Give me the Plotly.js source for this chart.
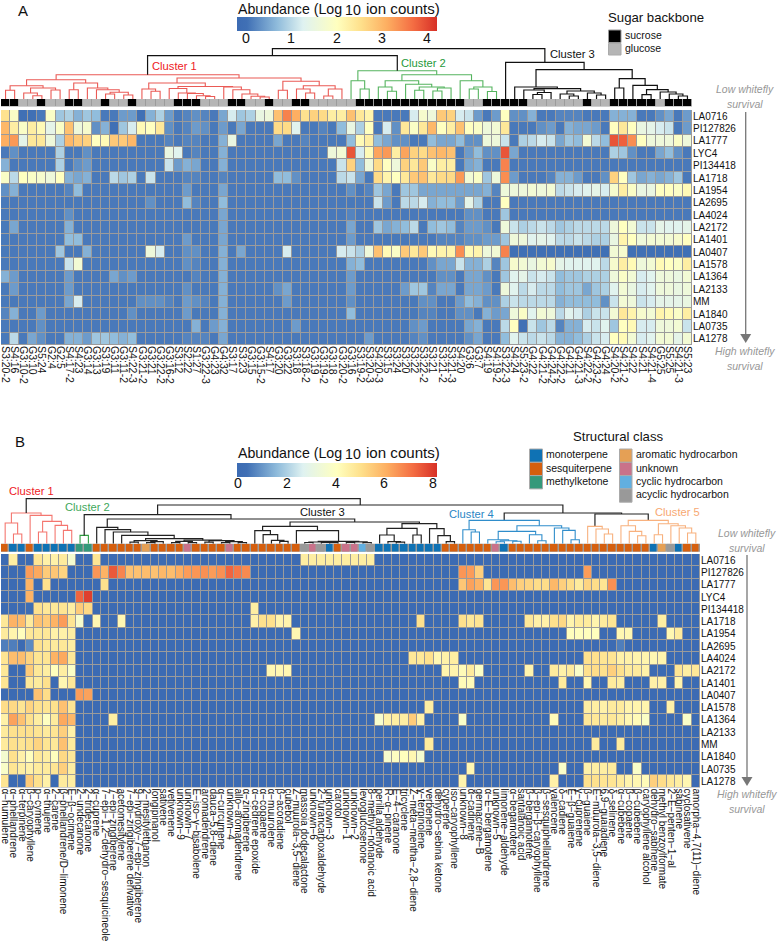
<!DOCTYPE html>
<html><head><meta charset="utf-8">
<script src="https://cdn.plot.ly/plotly-3.0.1.min.js"></script>
<style>html,body{margin:0;padding:0;background:#fff}#g{width:778px;height:943px}</style>
</head><body><div id="g"></div>
<script>
const genotypes=["LA0716","PI127826","LA1777","LYC4","PI134418","LA1718","LA1954","LA2695","LA4024","LA2172","LA1401","LA0407","LA1578","LA1364","LA2133","MM","LA1840","LA0735","LA1278"];
const sugarLabels=["S3:20-2","S4:16","G3:10-2","G3:10","S5:24","G2:4","G2:5","S4:17-2","S4:23","G3:14","G3:13","S3:19","G3:11","G3:11-2","S4:22-3","G3:21-2","G3:21","G3:22-2","G3:16-2","S3:12","S2:22","S1:27","G3:22-3","G4:23","G4:32","S3:17","S3:23","G3:15","G3:15-2","S4:17","G3:20","G3:22","S3:18","S3:18-2","G3:19","G3:19-2","G3:18","G3:20-2","G3:16","S3:19-2","S3:20-3","S4:20-3","S3:15","S3:24","S3:20","S3:22","S3:22-2","S3:21","S3:21-2","S3:21-3","S4:20","G3:6","G3:7","S4:19","S4:19-2","S3:22-3","S4:24","S5:23-2","G4:22","G4:21-2","G4:24-2","G4:22-2","G4:21","G4:21-3","S4:22-2","G4:23-2","G4:24","S4:20-2","S4:21-2","S4:22","S4:21","S4:21-4","G5:25","S5:25","S4:21-3","S5:23"];
const abundanceA=[
[2.5,1.9,0,0,.1,1.9,.8,.9,.6,.8,.7,.1,.1,.4,.4,0,.6,.9,.4,.1,.2,.3,.2,.1,.5,1.2,.8,.9,1.5,1.6,2.9,3.5,3.1,2.5,2.7,2.6,2.3,2.3,2.9,2.4,2.2,.1,.1,.1,.1,1.2,1.8,1.6,2.8,2.7,1.2,1.1,.4,.1,.4,2,.3,.3,.6,.1,.1,.2,.2,.2,.1,.1,.1,.6,.6,.6,.1,.1,.3,.5,.1,.4],
[3,2.3,1.9,2.3,2.1,1.4,1.9,2.9,1.6,1.8,.3,.6,0,.8,1.2,2.1,2,2.4,.3,.1,.2,.4,.3,.1,.4,.1,.5,.1,.1,.1,2.6,2.6,1.3,.1,.1,.2,.1,.7,1.5,.9,2,.1,1.2,.3,2.4,1.9,2.4,3,2,2.3,2.9,2,1.9,1.6,1.7,2.4,.1,.1,.1,.3,.4,.1,.6,.5,.5,.4,.1,2,2.4,2,1.5,1.4,1.2,1.1,.1,.4],
[3.1,3.3,1.4,2.4,2.4,1.6,.9,3,2.8,2.7,2,2.1,2.8,2.8,3,.1,.1,.1,.2,.1,.2,.2,.1,.1,.6,1.5,.1,.1,.1,.1,.5,.1,.1,.2,.1,.1,.1,.1,.7,2.1,2.3,.7,.5,.3,.3,.1,.1,.7,.5,.5,.7,.3,.3,1.6,1.6,1.1,.1,.9,1,1.2,1.1,.5,.8,.7,1.7,1,.7,3.9,3.8,3.4,2,1.6,1.6,1.6,1.9,1.6],
[.1,.3,.1,.1,.1,.1,.9,.1,.1,.3,.1,.1,.1,.1,.1,.1,.1,.1,1.5,1.3,.1,.2,.1,.1,.6,.1,.1,.1,.1,.1,.1,.1,.1,.1,.1,.1,1.6,1.7,3.9,1.2,2.1,3.2,3.3,2.3,3.2,2.7,2.6,2.9,3,2.9,.1,.4,.7,.3,.3,3.9,.5,.1,.1,.1,.1,.1,.1,.1,.1,.1,.1,.9,.8,.3,.1,.1,.5,.7,.3,.1],
[.6,.1,.1,.1,.1,.1,.9,.1,.3,.4,.1,.1,.1,.1,.1,.1,.1,.1,1.1,.4,.6,.5,.1,.1,.6,.1,.1,.1,.1,.1,.1,.1,.1,.1,.1,.1,.1,1.1,2.7,.7,1.6,2.6,2,1.6,2.7,2.4,2.8,1.9,2.3,2.3,.1,.5,.6,.1,.1,3.5,.1,.1,.1,.1,.1,.1,.1,.1,.1,.1,.1,.1,.1,.1,.1,.1,.1,.1,.1,.1],
[1.9,1,2,1.9,1.8,1.6,2,.6,.5,.6,.1,.1,1,.8,.9,.1,1.1,.1,.1,.1,.2,.2,.1,.1,.2,.1,.1,.1,.1,.1,.7,.7,.3,.1,.1,.1,.1,1,1.1,.5,.1,2.6,2.2,2,2.4,2.8,2.9,2.4,2.6,2.6,3.3,1.7,1.9,.8,1.6,3.4,.4,.1,.1,.1,.2,.6,.6,.4,.1,.1,.3,2.7,2,.8,.5,.6,.5,.6,.8,.1],
[.3,.6,.1,.1,.1,.1,.1,.2,.7,.1,.1,.1,.1,.1,.1,.1,.1,.1,.1,.1,.4,.1,.1,.1,.5,.1,.1,.1,.1,.1,.1,.1,.1,.1,.1,.1,.1,.1,.3,.1,.2,.8,.5,.1,.8,.8,.5,.5,.5,.5,.5,.5,.5,.6,.2,1.6,1.6,1.6,1.7,1.6,1.7,1,1.1,1.2,1.3,1.4,1.2,1.8,2.3,1.9,1.5,1.5,2,2,1.9,2.1],
[.1,.1,.1,.1,.1,.1,.1,.1,.1,.1,.1,.1,.1,.1,.1,.1,.3,.1,.1,.1,.7,.2,.1,.1,.7,.1,.1,.1,.1,.1,.1,.1,.1,.1,.1,.1,.1,.1,.1,.1,.1,1.1,.4,.1,1,1,1.2,.6,.7,.7,.4,1.4,.9,.1,.1,2,.1,.1,.1,.1,.1,.1,.1,.1,.1,.1,.1,.1,.1,.1,.1,.1,.1,.1,.1,.1],
[.1,.1,.1,.1,.1,.1,.1,.3,.1,.1,.1,.1,.1,.1,.1,.1,.1,.1,.1,.1,.1,.1,.1,.1,.5,.1,.1,.1,.1,.1,.1,.1,.1,.1,.1,.1,.1,.1,.2,.1,.1,.1,.1,.1,.1,.1,.1,.1,.1,.1,.1,.3,.3,.1,.1,.8,.1,.1,.1,.1,.1,.1,.1,.1,.1,.1,.1,.1,.1,.1,.1,.1,.1,.1,.1,.1],
[.1,.5,.1,.1,.1,.1,.1,.6,.1,.1,.1,.1,.1,.1,.1,.1,.1,.1,.1,.1,.1,.1,.1,.1,.5,.1,.1,.1,.1,.1,.1,.1,.1,.1,.1,.1,.1,.1,.5,.1,.1,.8,.5,.6,.7,1,.1,.7,.8,.7,.2,.4,.4,.3,.1,1.6,1.1,.9,1,1.1,1,.8,.9,1,1,1,1,1.6,2,1.7,1.1,1.1,1.4,1.3,1.3,1.4],
[.1,.1,.1,.1,.1,.1,.1,.7,.7,.1,.1,.1,.1,.1,.1,.1,.1,.1,.1,.1,.4,.1,.1,.1,.5,.1,.1,.1,.1,.1,.1,.1,.1,.1,.1,.1,.1,.1,.4,.1,.1,.1,.1,.1,.1,.1,.1,.1,.2,.2,.2,.3,.3,.4,.4,.8,1.6,1.6,1.3,1.4,1.3,1,1,1.1,1,.9,.9,1.5,2.2,2,1.6,1.7,1.7,1.7,1.8,2],
[.1,.1,.1,.1,.1,.1,.8,.1,.1,.6,.1,.1,.1,.1,.1,.1,1.6,1.2,.1,.1,.3,.3,.1,.1,.6,.1,.5,.1,.1,.1,.1,1.2,.1,.1,.1,.1,.1,1.2,1.1,.9,1.6,2.9,2.1,1.9,2.8,2.4,2.8,2.1,2.2,2.2,3.4,2.1,2.2,1.6,1.7,3.5,0,0,0,0,0,0,0,0,0,0,0,1.7,1.8,0,0,0,0,0,0,0],
[.1,.1,.1,.1,.1,.1,.1,1.1,1.7,.1,.1,.1,.1,.1,.1,.1,.1,.1,.1,.1,.3,.2,.1,.1,.6,.1,.1,.1,.1,.1,.1,.1,.1,.1,.1,.1,.1,.1,.6,.7,.1,.1,.1,.1,.1,.1,.1,.3,.5,.5,1.1,.6,.6,.9,.2,.8,1.8,1.7,1.5,1.7,1.8,1.4,1.3,1.3,1.3,1.3,1,1.8,2.3,2.1,1.6,1.7,2.1,2,1.9,2.3],
[.6,.4,.1,.1,.1,.1,.1,.4,.1,.1,.1,.1,.5,.3,.4,.1,.1,.1,.1,.1,.1,.2,.1,.1,.6,.1,.1,.1,.1,.1,.1,.1,.1,.1,.1,.1,.1,.1,.4,.1,.1,.1,.1,.1,.1,.1,.1,.1,.3,.3,.1,.5,.5,.3,.1,.8,1.3,1.4,1.1,1.2,1.1,.7,.8,.8,.9,.9,.9,1.6,1.9,1.7,1.2,1.3,1.6,1.6,1.5,1.7],
[.1,.4,.1,.1,.1,.1,.1,.4,.1,.1,.1,.1,.1,.1,.1,.1,.1,.1,.1,.1,.3,.1,.1,.1,.6,.1,.1,.1,.1,.1,.3,.5,.1,.1,.1,.1,.1,.1,.4,.1,.1,.1,.1,.1,.4,.8,.8,.2,.5,.5,.1,.5,.5,.4,.1,1.6,1.3,1,1.2,1,1,.7,.8,.8,.5,.8,.9,1.3,1.7,1.5,1.2,1.3,1.6,1.6,1.5,1.6],
[.1,.1,.1,.1,.1,.1,.1,.5,1.2,.1,.1,.1,.1,.1,.1,.3,.3,.3,.2,.1,.4,.3,.2,.1,.6,.1,.1,.1,.1,.1,.1,.4,.1,.1,.1,.1,.1,.1,.3,.1,.1,.1,.1,.1,.1,.1,.3,.3,.1,.1,.4,.7,.6,.3,.3,.9,1.1,1,1,1,1,.6,.7,.7,.7,.7,.3,1.1,1.7,1.6,1.1,1.2,1.4,1.4,1.4,1.5],
[.2,.6,.1,.1,.4,.1,.1,.1,.1,.1,.1,.1,.1,.1,.3,.1,.1,.1,.1,.1,.4,.1,.1,.1,.6,.1,.1,.1,.1,.1,.1,.1,.1,.1,.1,.1,.1,.1,.7,.1,.1,.1,.1,.1,.1,.1,.2,.2,.1,.1,.3,.3,.1,.6,.4,.5,1.6,1.9,1.3,1.7,1.6,1,1.3,1.2,.9,1.1,1.1,1.7,2.4,2.2,1.8,1.7,2.2,2.1,1.9,2.3],
[.1,.1,.1,.1,.3,.1,.1,.1,.1,.1,.1,.1,.1,.1,.1,.1,.1,.1,.1,.1,.1,.6,.1,.4,.6,.1,.1,.1,.1,.1,.1,.1,.4,.1,.1,.1,.1,.1,.1,.1,.1,.1,.1,.1,.1,.3,.4,.1,.1,.1,.1,.5,.6,.1,.1,1,2,0,1.1,.8,1,.2,.6,.6,1.2,1.1,1.3,.8,2,2.1,1.2,1.2,1.6,1.6,1.7,1.1],
[.1,1,.1,.5,.3,.1,.1,.6,.6,.4,.8,.8,.7,.6,.7,.1,.1,.1,.1,.1,.2,.2,.2,.1,.5,.1,.1,.1,.1,.1,.1,.1,.1,.1,.1,.1,.1,.1,.1,.1,.4,.1,.1,.1,.1,.2,.3,.1,.1,.1,.1,.3,.5,.1,.1,.7,1.3,1.1,1,1.1,1,.6,.6,.7,.9,1.1,1.2,2,2.1,1.7,1.2,1.3,1.7,1.7,1.4,1.7]
];
const terpeneLabels=["α−humulene","α−phellandrene","α−terpinene","β−caryophyllene","p−cymene","α−thujene","2−carene","β−phellandrene/D−limonene","E−β−ocimene","2−undecanone","2−tridecanone","α−cuprene","7−epi−1,2−dehydro−sesquicineole","7−epi−zingiberene","acetomesitylene","7−epi−zingiberene derivative","9−hydroxy−7−epi−zingiberene","2−mesitylethanon","longipinanol","sativene","vetivenene","unknown−9","unknown−7","E−iso−γ−bisabolene","aromadendrene","dauca−5,8−diene","α−curcumene","unknown−4","allo−aromadendrene","α−zingiberene","α−cedrene epoxide","α−copaene","α−muurolene","β−acoradiene","cubebol","Z−muurola−3,5−diene","massoia dodecalactone","unknown−6","2−furancarboxaldehyde","unknown−3","carotol","unknown−1","unknown−2","levoglucosenone","8−methyl−nonanoic acid","perilla aldehyde","R−α−pinene","E−4−caranone","tricyclene","Z−meta−mentha−2,8−diene","γ−terpinolene","verbenene","dehydro−sebina ketone","cyperene","iso−caryophyllene","unknown−8","α−cadinene","germacrene−B","α−E−bergamotene","unknown−5","limonene−aldehyde","α−begamotene","santalanoic acid","β−bergamotene","β−epi−β−caryophyllene","β−sesquiphellandrene","valencene","δ−cadiene","E−β−guaiene","γ−cuprenene","β−guaiene","E−muurola−3,5−diene","6,9−guaiadiene","δ−selinene","α−cubebene","β−copaene","β−cubebene","caryophyllene alcohol","dehydro−sabinene","methyl benzoylformate","2−E−penten−1−al","sabinene","cyclosativene","amorpha−4,7(11)−diene"];
const structuralClass=["sesq","mono","mono","sesq","mono","mono","mono","mono","mono","mk","mk","sesq","sesq","sesq","sesq","sesq","sesq","arom","sesq","sesq","sesq","sesq","unk","sesq","sesq","sesq","sesq","unk","sesq","sesq","sesq","sesq","sesq","sesq","sesq","sesq","acyc","unk","acyc","mono","sesq","unk","unk","cyc","acyc","mono","mono","mono","mono","mono","mono","mono","mono","sesq","sesq","sesq","sesq","sesq","sesq","unk","mono","sesq","sesq","sesq","sesq","sesq","sesq","sesq","sesq","sesq","sesq","sesq","sesq","sesq","sesq","sesq","sesq","sesq","mono","arom","acyc","mono","sesq","sesq"];
const abundanceB=[
[0,4.6,0,0,4.9,4.5,4.5,4.7,3.6,0,0,4.9,0,0,0,0,0,0,0,0,0,0,0,0,0,0,0,0,0,0,0,0,0,0,0,0,4.6,4.6,4.6,4.6,4.6,4.6,4.6,4.6,4.6,0,0,0,0,0,0,0,0,0,0,0,0,0,0,0,0,0,0,0,0,0,0,0,0,0,0,0,0,0,0,0,0,0,0,0,0,0,0,0],
[0,0,0,6.4,6.2,5.5,5.6,5.3,0,0,0,6.5,6,7.5,6.8,5.7,5.7,5.8,5.7,5.9,5.8,6.1,6.4,6.5,6.6,6.4,6.6,7.3,7,6.7,0,0,0,0,0,0,0,0,0,0,0,0,0,0,0,0,0,0,0,0,0,0,0,0,0,6.5,6.4,5.4,0,0,0,0,0,0,0,0,0,0,0,0,6.4,0,0,0,0,0,0,0,0,0,0,0,0,0],
[0,0,0,6,0,5,0,0,0,0,0,0,5,0,0,0,0,0,0,0,0,0,0,0,0,0,0,0,0,0,0,0,0,0,0,0,0,0,0,0,0,0,0,0,0,0,0,0,0,0,0,0,0,0,0,5.6,6.3,6,4.9,6.5,6.5,5.8,5.4,5.3,5.1,5.1,5.9,5.4,5.1,4.7,5.3,5.1,4.9,6.6,0,0,0,0,0,0,0,0,0,0],
[0,0,0,6,0,0,0,0,0,7.3,7.9,0,0,0,0,0,0,0,0,0,0,0,0,0,0,0,0,0,0,0,0,0,0,0,0,0,0,0,0,0,0,0,0,0,0,0,0,0,0,0,0,0,0,0,0,0,0,0,0,0,0,0,0,0,0,0,0,0,0,0,0,0,0,0,0,0,0,0,0,0,0,0,0,0],
[0,0,0,.2,5,4.8,4.8,4.9,4.6,5.5,5.2,0,0,0,0,0,0,0,0,0,0,0,0,0,0,0,0,0,0,0,4.6,0,0,0,0,0,0,0,0,0,0,0,0,0,0,0,0,0,0,0,0,0,0,0,0,0,0,0,0,0,0,0,0,0,0,0,0,0,0,0,0,0,0,0,0,0,0,0,0,0,0,0,0,0],
[4.8,6,5.8,4.7,5.7,5.5,6,6.4,4.9,3.7,0,4.3,0,0,4.3,0,0,0,0,0,0,0,0,0,0,0,0,0,0,0,4.5,5,5,4.4,4.4,0,0,0,0,0,0,0,0,0,0,0,0,0,0,0,5,0,0,0,0,5,4.8,4.9,0,0,0,0,0,4.8,4.5,4.5,5,5.2,4.4,4.7,4.7,4.4,4.7,4.9,0,0,0,0,0,4.6,0,0,0,0],
[4.7,4.4,4.1,4.8,4.8,4.8,4.5,4.5,4.6,0,0,0,0,0,0,0,0,0,0,0,0,0,0,0,0,0,0,0,0,0,0,0,0,0,0,4.3,0,0,0,0,0,0,0,0,0,0,0,0,0,0,0,0,0,0,0,0,0,0,0,0,0,0,0,0,0,0,0,0,4.1,4.1,4.1,4.1,0,0,4.3,4.3,0,0,0,0,4.3,4.7,0,0],
[.6,.6,0,.8,5,4.8,4.7,4.8,4.6,0,0,0,0,0,0,0,0,0,0,0,0,0,0,0,0,0,0,0,0,0,0,0,0,0,0,0,0,0,0,0,0,0,0,0,0,0,0,0,0,0,0,0,0,0,0,0,0,0,0,0,0,0,0,0,0,0,0,0,0,0,0,0,0,0,.6,0,0,0,0,0,0,0,0,0],
[4.9,5.8,5.8,5.3,4.9,4.9,6,6.2,4.8,0,0,0,0,0,0,0,0,0,0,0,0,0,0,0,0,0,0,0,0,0,0,0,0,0,0,0,0,0,0,0,0,0,0,0,0,0,0,0,0,4.8,4.8,5,4.3,4.5,4.6,0,0,0,0,0,0,0,0,0,0,0,0,0,0,0,5,5,4.9,4.9,4.5,4.5,4.4,4.4,4.3,4.4,0,0,0,0],
[4.8,0,0,5.5,4.8,4.6,4.1,4.6,3.9,0,0,0,0,0,0,0,0,0,0,0,0,0,0,0,0,0,0,0,0,0,0,0,4.3,4.3,4.3,0,0,0,0,0,0,0,0,0,0,0,0,0,0,0,0,0,0,4.4,4.4,4.2,4.7,3.9,0,0,0,0,0,4.4,0,0,4.7,4.5,4.7,3.8,5,5.1,5,5.4,5,4.7,4.7,4.5,0,0,0,4.9,4.6,4.8],
[4.9,0,0,4.8,4.7,5,0,4.3,4.8,0,0,0,0,0,0,0,0,0,0,0,0,0,0,0,0,0,0,0,0,0,0,0,0,0,0,0,0,0,0,0,0,0,0,0,0,0,0,0,0,0,0,0,0,0,0,4.2,4.2,0,0,0,0,0,0,0,0,0,0,4.7,0,0,4.3,0,0,4.7,4.6,0,0,0,4.5,4.5,0,4.4,0,0],
[0,0,0,0,5.7,5.1,0,0,0,6.4,6.3,0,0,0,0,0,0,0,0,0,0,0,0,0,0,0,0,0,0,0,0,0,0,0,0,0,0,0,0,0,0,0,0,0,0,0,0,0,0,0,0,0,0,0,0,0,0,0,0,0,0,0,0,0,0,0,0,0,0,0,0,0,0,0,0,0,0,0,0,0,0,0,0,0],
[5.1,5.2,4.9,5.3,5,4.9,5,5.7,4.9,0,0,0,0,0,0,0,0,0,0,0,0,0,0,0,0,0,0,0,0,0,0,0,0,0,0,0,0,0,0,0,0,0,0,0,0,0,0,0,0,0,0,4.6,0,0,0,0,0,0,0,0,0,0,0,0,0,0,0,0,0,0,4.6,4.6,4.5,4.7,4.7,4.4,4.4,4.4,0,0,4.5,0,0,0],
[4.5,6.3,5.7,5,4.6,4,4.7,6.2,5.9,0,0,0,0,4.6,0,0,0,0,0,0,0,0,0,0,0,0,0,0,0,0,0,0,0,0,0,0,0,0,0,0,0,0,0,0,0,3.7,4.5,4.6,4.6,5.5,4.5,0,0,0,0,3.8,0,0,0,0,0,0,0,0,0,0,4.2,0,0,0,4.8,4.8,4.7,4.8,4.6,4.3,4.2,3.9,0,0,0,0,3.8,0],
[4.7,5,5,5,4.9,4.7,4.9,5.4,4.5,0,0,0,0,0,0,0,0,0,0,0,0,0,0,0,0,0,0,0,0,0,0,0,0,0,0,0,0,0,0,0,0,0,0,0,0,0,0,0,0,0,0,0,0,0,0,0,0,0,0,0,0,0,0,0,0,0,0,0,0,0,0,0,0,0,0,0,0,0,0,0,0,0,0,0],
[4.7,5,4.9,5,5.3,4.9,4.8,5.7,4.7,0,0,0,0,0,0,0,0,0,0,0,0,0,0,0,0,0,0,0,0,0,0,0,0,0,0,0,0,0,0,0,0,0,0,0,0,0,0,0,0,0,0,4.7,0,0,0,0,0,0,0,0,0,0,0,0,0,0,0,0,0,0,0,4.7,0,0,4.7,0,0,0,0,0,0,0,0,0],
[3.6,5,4.5,4.1,4.8,4.6,4.1,5.2,4.8,0,0,0,0,0,0,0,0,0,0,0,0,0,0,0,0,0,0,0,0,0,0,0,0,0,0,0,0,0,0,0,0,0,0,0,0,0,3.7,4,4.1,4.3,3.6,0,0,0,0,0,0,0,0,0,0,0,0,0,0,0,0,0,0,0,0,0,0,0,0,0,0,0,0,0,0,0,0,0],
[3.8,4.9,4.6,4.5,4.7,4.7,4.9,5.4,4.6,0,0,0,0,0,0,0,0,0,0,0,0,0,0,0,0,0,0,0,0,0,0,0,0,0,0,0,0,0,0,0,0,0,0,0,0,0,0,0,0,0,0,0,0,0,0,0,4.3,0,0,0,0,0,0,0,0,0,0,3.8,0,0,4.5,4.6,4.6,4.7,0,0,3.8,0,0,0,0,0,0,0],
[4.9,0,0,5.5,5,4.5,0,4.7,4.6,0,0,0,0,0,0,0,0,0,0,0,0,0,0,0,0,0,0,0,0,0,0,0,0,0,0,0,0,0,0,0,0,0,0,0,0,0,0,0,0,0,0,0,0,0,0,4.4,0,0,0,0,0,0,0,0,0,0,4.5,0,0,0,5,5,4.9,4.9,4.7,4.4,4.3,4.2,5.4,5.1,4.8,4.6,4.3,0]
];
const ticksA=[0,1,2,3,4];
const ticksB=[0,2,4,6,8];
/* dendrograms: a node is [merge height, left, right, optional cluster]; 0 is a leaf */
const treeA=[50.3,[43.3,
  [24.3,[19.3,[13.3,[8.7,0,0],[11,[6,0,[3.3,0,0]],[9,0,0]]],[16,[9.3,0,0],[11,0,[9.3,0,[6.7,[5,0,0],[4,0,0]]]]]],
        [21,[16,[10,0,[7.7,0,0]],[12.5,[10.5,0,[6,0,[5.5,0,[3.3,0,[2.5,0,0]]]]],[12,0,[9.3,0,[5,0,[2.8,0,[2,0,0]]]]]]],[17.7,[8.7,0,0],[13.3,[10,0,[6,0,0]],[10,[3,0,0],0]]]],"c1"],
  [28.3,[18.3,0,[10,0,0]],[24.3,[18.3,[12,0,[7.7,0,0]],[14.7,0,[12,[8.7,0,0],[11,[8,0,0],0]]]],[18.3,0,[12,[10,0,0],[7.5,0,0]]]],"c2"]],
  [36.7,0,[29.3,[12,0,[10.3,[9,0,[6.5,[4.5,0,0],0]],[8,[5,0,[3,0,0]],[6,0,[4,0,0]]]]],[20.3,[11,0,0],[13.7,0,[9.3,[4.3,0,0],[7,0,[5,0,[3,0,0]]]]]]]]];
const treeB=[45,
  [30.7,[20.7,0,[9.7,0,0]],[28.3,0,[22.3,[11.7,0,0],[18.3,0,[13.3,0,0]]]],"c1"],
  [38.7,[29,[8.3,0,0,"c2"],[24.7,
     [16.3,0,[14,0,[11.7,0,[8.3,0,[5,[3,[1.5,0,0],[2,[1,0,0],0]],[3.5,[2.3,[1,0,0],[1,0,0]],[3,[1.5,0,0],[2,[1,0,0],[1,0,0]]]]]]]]],
     [21.7,[17.3,[13,0,[9,0,[3.3,0,[2.3,0,0]]]],[13,0,[2.3,[1.7,[1.2,0,0],[1.3,0,[1,0,0]]],[1.8,[1.2,0,0],[1,0,0]]]]],
           [20,[15.3,[8.7,0,[2,0,[1.5,0,0]]],[8.7,0,0]],[15,0,[8,0,[2,0,0]]]]]]],
   [30.7,[23.3,[14,0,[11.7,0,0]],[18,[12.3,[4,0,[3,[2,0,0],[2.5,0,0]]],[9,0,[3,0,0]]],[15.7,0,[13.3,0,[4,0,0]]]],"c4"],
         [29.7,[17.3,0,[14.7,0,[9.7,0,0]],"c5"],[23.3,[18,0,[12.3,0,[8,0,0]]],[20,[9,0,0],[18,0,[15.7,0,[10.7,0,0]]]],"c5"]]]]];

const W=778,H=943;
const px=v=>v/W, py=v=>1-v/H, dom=(a,b)=>[1-b/H,1-a/H];
const FONT="Liberation Sans, Arial, sans-serif";
const scale=[[0,"#3c6bb3"],[.05,"#4070b5"],[.2,"#8fbbdb"],[.33,"#dff2f1"],[.5,"#ffffbf"],[.62,"#fee08b"],[.75,"#fdae61"],[.88,"#f46d43"],[1,"#d73027"]];

function dendro(tree,colors,xa,ya){
  const segs={};let i=0;
  const walk=(n,c)=>{
    if(n===0)return{x:i++,h:0};
    const col=n[3]||c,l=walk(n[1],col),r=walk(n[2],col);
    const s=segs[col]||(segs[col]={x:[],y:[]});
    s.x.push(l.x,l.x,r.x,r.x,null);s.y.push(l.h,n[0],n[0],r.h,null);
    return{x:(l.x+r.x)/2,h:n[0]};
  };
  walk(tree,"k");
  return Object.keys(segs).map(k=>({type:"scatter",mode:"lines",x:segs[k].x,y:segs[k].y,xaxis:xa,yaxis:ya,hoverinfo:"skip",showlegend:false,line:{color:colors[k],width:k==="k"?1.2:1.1}}));
}
const cols=n=>Array.from({length:n},(_,i)=>i);
const rows=cols(19);
const classOrder=["mono","sesq","mk","arom","unk","cyc","acyc"];
const classColors=["#0f72b4","#d55f0e","#35997a","#e5a055","#c9728a","#62afe0","#999999"];
const classScale=classColors.flatMap((c,i)=>[[i/7,c],[(i+1)/7,c]]);
const sugar=sugarLabels.map(s=>s[0]==="S"?0:1);

const cb=y=>({orientation:"h",xref:"paper",yref:"paper",x:px(237),xanchor:"left",y:py(y),yanchor:"top",len:200,lenmode:"pixels",thickness:13.5,thicknessmode:"pixels",xpad:0,ypad:0,showticklabels:false,ticks:"",outlinewidth:0,borderwidth:0});

const zRangeA=[-.2,4.22],zRangeB=[-.04,8.16];
const data=[
 {type:"heatmap",z:abundanceA,x:cols(76),y:rows,xaxis:"x",yaxis:"y",zmin:zRangeA[0],zmax:zRangeA[1],colorscale:scale,xgap:1,ygap:1,hoverinfo:"skip",colorbar:cb(17)},
 {type:"heatmap",z:[sugar],x:cols(76),y:[0],xaxis:"x",yaxis:"y2",zmin:0,zmax:1,colorscale:[[0,"#000"],[1,"#b5b5b5"]],showscale:false,xgap:1,ygap:0,hoverinfo:"skip"},
 ...dendro(treeA,{k:"#111",c1:"#ea5a55",c2:"#55b45f"},"x","y3"),
 {type:"heatmap",z:abundanceB,x:cols(84),y:rows,xaxis:"x2",yaxis:"y4",zmin:zRangeB[0],zmax:zRangeB[1],colorscale:scale,xgap:1,ygap:1,hoverinfo:"skip",colorbar:cb(463)},
 {type:"heatmap",z:[structuralClass.map(c=>classOrder.indexOf(c)+.5)],x:cols(84),y:[0],xaxis:"x2",yaxis:"y5",zmin:0,zmax:7,colorscale:classScale,showscale:false,xgap:1.5,ygap:0,hoverinfo:"skip"},
 ...dendro(treeB,{k:"#222",c1:"#f4766f",c2:"#2f9e40",c4:"#2f8dcb",c5:"#f8b17e"},"x2","y6")
];

const hide={visible:false,showgrid:false,zeroline:false,fixedrange:true};
const heatY=(t,b,anchor)=>({domain:dom(t,b),range:[18.5,-.5],anchor,side:"right",tickmode:"array",tickvals:rows,ticktext:genotypes,ticks:"",tickfont:{size:10,family:FONT,color:"#111"},showgrid:false,zeroline:false,showline:false,fixedrange:true});
const heatX=(n,r,labels,anchor,size)=>({domain:[px(1),px(r)],range:[-.5,n-.5],anchor,tickmode:"array",tickvals:cols(n),ticktext:labels,tickangle:90,ticks:"",ticklen:0,ticklabeloverflow:"allow",tickfont:{size,family:FONT,color:"#111"},showgrid:false,zeroline:false,showline:false,fixedrange:true});

const layout={
 width:W,height:H,margin:{l:0,r:0,t:0,b:0,autoexpand:false},paper_bgcolor:"#fff",plot_bgcolor:"rgba(0,0,0,0)",showlegend:false,font:{family:FONT},
 xaxis:heatX(76,692,sugarLabels,"y",10.5),
 xaxis2:heatX(84,700,terpeneLabels,"y4",10),
 yaxis:heatY(110,345,"x"),
 yaxis2:{...hide,domain:dom(99,106.4),range:[-.5,.5],anchor:"x"},
 yaxis3:{...hide,domain:dom(40,99),range:[0,59],anchor:"x"},
 yaxis4:heatY(554,787.5,"x2"),
 yaxis5:{...hide,domain:dom(543.7,551.7),range:[-.5,.5],anchor:"x2"},
 yaxis6:{...hide,domain:dom(490,543.7),range:[0,53.7],anchor:"x2"},
 shapes:[],annotations:[]
};
const rect=(x0,y0,x1,y1,fill,line,layer)=>layout.shapes.push({type:"rect",xref:"paper",yref:"paper",x0:px(x0),x1:px(x1),y0:py(y0),y1:py(y1),fillcolor:fill,line:{width:line?1:0,color:line||fill},layer:layer||"above"});
const txt=(x,y,text,size,opt={})=>layout.annotations.push({xref:"paper",yref:"paper",x:px(x),y:py(y),text,showarrow:false,xanchor:opt.anchor||"left",yanchor:"middle",font:{size,family:FONT,color:opt.color||"#111"},borderpad:0});
/* cell gridlines and strips' background */
rect(1,110,692,345,"#9b9b9b",null,"below");
rect(1,99,692,106.4,"#9b9b9b",null,"below");
rect(1,554,700,787.5,"#9b9b9b",null,"below");
rect(1,543.7,700,551.7,"#9b9b9b",null,"below");

txt(17,10,"A",15);txt(14,441,"B",15);
const title=y=>{txt(237,y,"Abundance (Log",14.2);txt(343.5,y+1.6,"10",14.2);txt(365,y,"ion counts)",15.1);};
title(8.5);title(452.5);
/* colour-bar tick labels sit at their value along each 200 px bar */
const barTicks=(ticks,range,y)=>ticks.forEach(v=>txt(237+(v-range[0])/(range[1]-range[0])*200,y,String(v),14.2,{anchor:"center"}));
barTicks(ticksA,zRangeA,38);barTicks(ticksB,zRangeB,483);

const cl=(x,y,t,c)=>txt(x,y,t,11.2,{anchor:"center",color:c});
cl(174,66,"Cluster 1","#ee2025");cl(424,63,"Cluster 2","#1f9a3c");cl(572,54,"Cluster 3","#111");
cl(32,491,"Cluster 1","#ee2025");cl(87,507,"Cluster 2","#3fa85c");cl(322,512,"Cluster 3","#111");cl(471,514,"Cluster 4","#2b86c5");cl(677,512,"Cluster 5","#f7a872");

txt(607,18,"Sugar backbone",13.2);
rect(608.5,30,621,42.5,"#000","#999");rect(608.5,43.5,621,55,"#b5b5b5","#aaa");
txt(624,35,"sucrose",10.5);txt(624,48,"glucose",10.5);

txt(618,437,"Structural class",13.2,{anchor:"center"});
[["monoterpene",0,0],["sesquiterpene",1,1],["methylketone",2,2]].forEach(([t,c,r])=>{const y=449+r*13.3;rect(529.5,y,542.5,y+13.3,classColors[c],"#aaa");txt(544.5,y+5.3,t,10.5);});
[["aromatic hydrocarbon",3,0],["unknown",4,1],["cyclic hydrocarbon",5,2],["acyclic hydrocarbon",6,3]].forEach(([t,c,r])=>{const y=449+r*13.3;rect(619.5,y,632,y+13.3,classColors[c],"#aaa");txt(635,y+5.3,t,10.5);});

const gray="#979797",side=(x,y,a,b)=>{const o={anchor:"center",color:gray};txt(x,y,"<i>"+a+"</i>",10.5,o);txt(x,y+14.7,"<i>"+b+"</i>",10.5,o);};
side(745,89,"Low whitefly","survival");side(745,351,"High whitefly","survival");
side(747,533,"Low whitefly","survival");side(747,794,"High whitefly","survival");
const arrow=(x,y0,y1,y2)=>{
 layout.shapes.push({type:"line",xref:"paper",yref:"paper",x0:px(x),x1:px(x),y0:py(y0),y1:py(y1),line:{color:"#777",width:1.3}});
 layout.shapes.push({type:"path",xref:"paper",yref:"paper",path:`M ${px(x-5.5)} ${py(y1)} L ${px(x+5.5)} ${py(y1)} L ${px(x)} ${py(y2)} Z`,fillcolor:"#777",line:{width:0}});
};
arrow(745.7,112,334,343);arrow(747,555,777,786);

Plotly.newPlot("g",data,layout,{displayModeBar:false,staticPlot:true});
</script></body></html>
